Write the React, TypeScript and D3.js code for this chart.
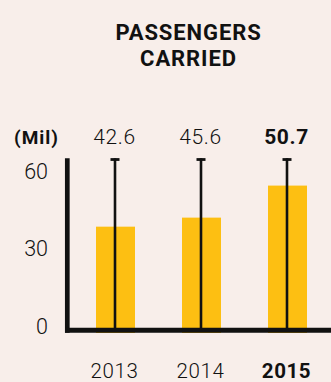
import React from "react";
import * as d3 from "d3";

const years = ["2013", "2014", "2015"];
const valueLabels = ["42.6", "45.6", "50.7"];
const barValues = [40.0, 43.5, 55.9];
const highlight = [false, false, true];
const yTicks = [0, 30, 60];
const titleLines = ["PASSENGERS", "CARRIED"];
const unitLabel = "(Mil)";

const W = 331;
const H = 382;
const BG = "#f8eeea";
const BAR = "#fdbf12";
const FONT = "Roboto, 'Noto Sans', sans-serif";

export default function App() {
  const x = d3.scaleBand<string>().domain(years).range([72.5, 330.5]).padding(0);
  const y = d3.scaleLinear().domain([0, 60]).range([330, 175]);
  const barW = 39;
  const axisX = 67.3;
  const axisTop = 158.3;
  const capTop = y(66.5);

  return (
    <svg
      width={W}
      height={H}
      style={{ position: "absolute", left: 0, top: 0, background: BG, display: "block" }}
    >
      <rect x={0} y={0} width={W} height={H} fill={BG} />
      {titleLines.map((t, i) => (
        <text
          key={t}
          x={188.5}
          y={40 + i * 26}
          textAnchor="middle"
          fontFamily={FONT}
          fontWeight={700}
          fontSize={22}
          letterSpacing={0.9}
          fill="#111"
        >
          {t}
        </text>
      ))}
      <text x={36.5} y={144} textAnchor="middle" fontFamily={FONT} fontWeight={700} fontSize={19} letterSpacing={1} fill="#111">
        {unitLabel}
      </text>
      {years.map((yr, i) => {
        const cx = (x(yr) as number) + x.bandwidth() / 2;
        return (
          <g key={yr}>
            <rect x={cx - barW / 2} y={y(barValues[i])} width={barW} height={y(0) + 3 - y(barValues[i])} fill={BAR} />
            <line x1={cx - 0.5} x2={cx - 0.5} y1={capTop} y2={y(0)} stroke="#111" strokeWidth={2.6} />
            <line x1={cx - 5} x2={cx + 4} y1={capTop + 1.3} y2={capTop + 1.3} stroke="#111" strokeWidth={2.8} />
            <text
              x={cx - 1}
              y={144}
              textAnchor="middle"
              fontFamily={FONT}
              fontWeight={highlight[i] ? 700 : 300}
              fontSize={21}
              letterSpacing={0.6}
              fill="#111"
            >
              {valueLabels[i]}
            </text>
            <text
              x={cx - 1}
              y={377.5}
              textAnchor="middle"
              fontFamily={FONT}
              fontWeight={highlight[i] ? 700 : 300}
              fontSize={20.5}
              letterSpacing={0.6}
              fill="#111"
            >
              {yr}
            </text>
          </g>
        );
      })}
      <line x1={axisX} x2={axisX} y1={axisTop} y2={332.7} stroke="#111" strokeWidth={4.7} />
      <line x1={65} x2={W} y1={330.2} y2={330.2} stroke="#111" strokeWidth={5} />
      {yTicks.map((t) => (
        <text
          key={t}
          x={48}
          y={y(t) - 4}
          dy="0.36em"
          textAnchor="end"
          fontFamily={FONT}
          fontWeight={300}
          fontSize={21.5}
          fill="#111"
        >
          {t}
        </text>
      ))}
    </svg>
  );
}
